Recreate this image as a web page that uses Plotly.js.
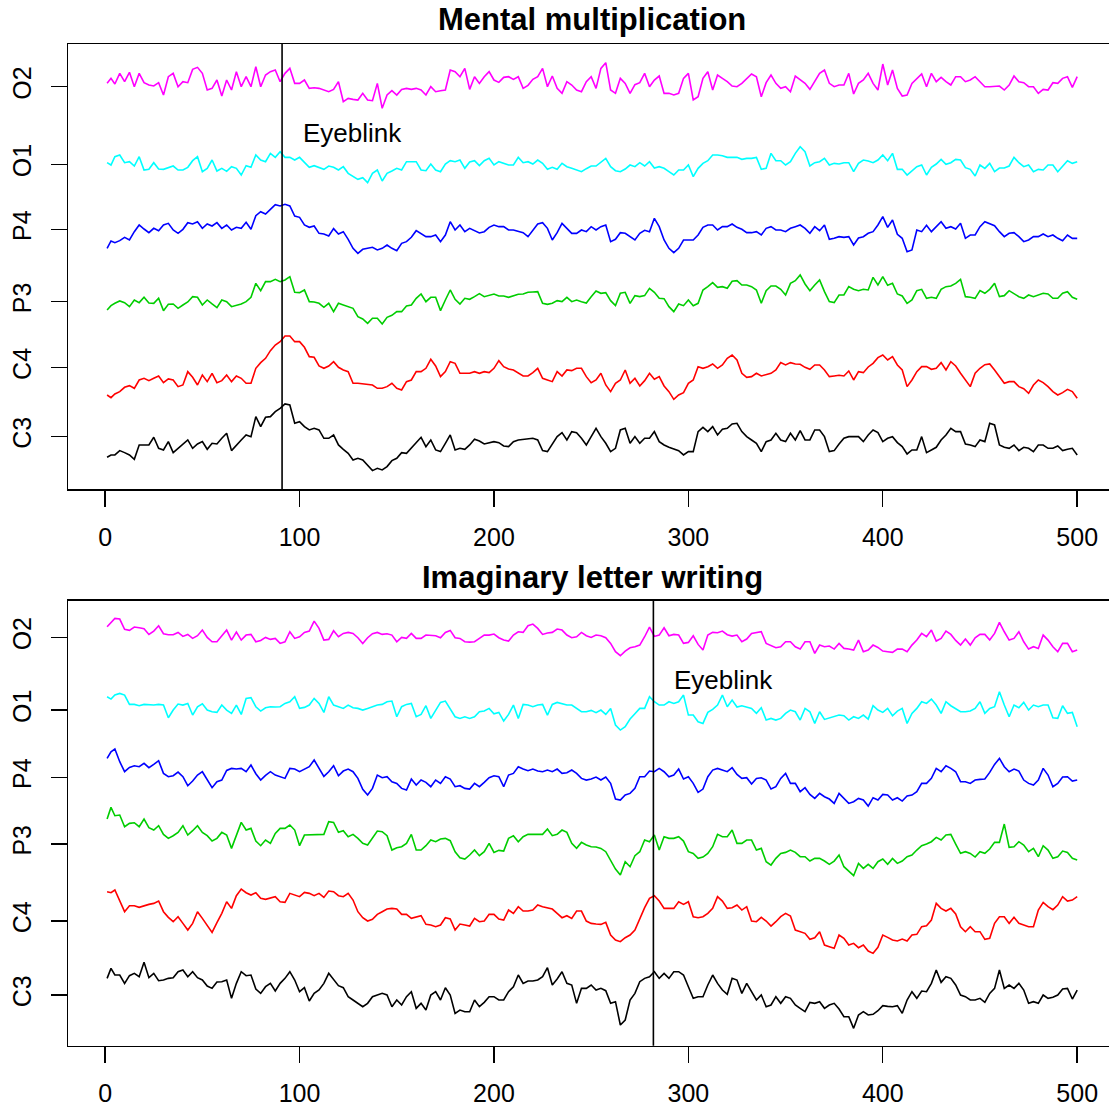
<!DOCTYPE html>
<html><head><meta charset="utf-8">
<script src="https://cdn.plot.ly/plotly-3.0.1.min.js"></script>
<style>html,body{margin:0;padding:0;overflow:hidden;background:#fff}#chart{width:1116px;height:1109px}</style>
</head><body><div id="chart"></div><script>
const channels = ["C3","C4","P3","P4","O1","O2"];
const colors = ["#000000","#FF0000","#00CD00","#0000FF","#00FFFF","#FF00FF"];
// sample positions read on a 5-unit grid, plus in-between readings
const sampleX = [1,5,10,15,20,25,30,35,40,45,50,55,60,65,70,75,80,85,90,95,100,105,110,115,120,125,130,135,140,145,150,155,160,165,170,175,180,185,190,195,200,205,210,215,220,225,230,235,240,245,250,255,260,265,270,275,280,285,290,295,300,305,310,315,320,325,330,335,340,345,350,355,360,365,370,375,380,385,390,395,400,405,410,415,420,425,430,435,440,445,450,455,460,465,470,475,480,485,490,495,500];
const midX = [3,7.5,12.5,17.5,22.5,27.5,32.5,37.5,42.5,47.5,52.5,57.5,62.5,67.5,72.5,77.5,82.5,87.5,92.5,97.5,102.5,107.5,112.5,117.5,122.5,127.5,132.5,137.5,142.5,147.5,152.5,157.5,162.5,167.5,172.5,177.5,182.5,187.5,192.5,197.5,202.5,207.5,212.5,217.5,222.5,227.5,232.5,237.5,242.5,247.5,252.5,257.5,262.5,267.5,272.5,277.5,282.5,287.5,292.5,297.5,302.5,307.5,312.5,317.5,322.5,327.5,332.5,337.5,342.5,347.5,352.5,357.5,362.5,367.5,372.5,377.5,382.5,387.5,392.5,397.5,402.5,407.5,412.5,417.5,422.5,427.5,432.5,437.5,442.5,447.5,452.5,457.5,462.5,467.5,472.5,477.5,482.5,487.5,492.5,497.5];
const xTicks = [0,100,200,300,400,500];

// ---- Mental multiplication (top panel) ----
const topTitle = "Mental multiplication";
const topOffsets = [158,365,563,780,975,1208];
const topBlink = 91;
const top_C3 = [-62,-55,-48,-68,-25,-2,-40,-48,-20,-35,-15,-20,-5,-42,-10,0,30,60,85,95,45,20,20,-5,-25,-50,-65,-85,-95,-90,-65,-50,-20,-30,-40,-20,-40,-38,-8,-22,-15,-28,-15,-8,-5,-42,-22,12,15,-5,0,0,-45,20,-20,-20,-5,-15,-32,-42,-45,15,15,5,25,40,0,-20,-15,10,-15,-10,-10,20,0,-42,-5,0,-15,20,-15,0,-30,-40,0,-40,-10,25,15,-25,-10,40,-25,-35,-42,-35,-25,-35,-28,-38,-55];
const top_C3_mid = [-55,-42,-55,-25,-25,-35,-15,-35,-10,-22,-38,-22,10,-25,5,60,58,75,98,40,30,25,-5,5,-38,-70,-70,-102,-100,-72,-48,-35,-2,-10,-45,5,-35,-25,-13,-18,-18,-30,-10,-7,-10,-45,0,-10,12,-25,25,-20,-35,25,0,-5,15,-25,-38,-55,-45,28,30,22,38,15,-10,-45,-10,-10,10,18,-10,20,-45,-22,0,0,5,12,-5,-18,-52,-40,-48,-32,5,15,-22,-30,-15,35,-32,-25,-32,-45,-25,-35,-42,-35];
const top_C4 = [-82,-79,-59,-62,-32,-32,-45,-37,-52,-29,-22,-17,-39,-42,-32,-47,15,51,78,95,78,33,5,5,1,-12,-47,-52,-62,-57,-62,-42,-12,-2,5,-12,13,-17,-12,-12,-2,3,-7,-25,-15,-32,-42,-25,-9,-2,-45,-17,-72,-37,-47,-55,-17,-27,-72,-82,-47,3,3,-2,28,23,-29,-17,-22,-7,8,11,1,8,-7,-25,-25,-37,-15,13,38,33,-7,-37,3,-5,15,18,-17,-57,-2,11,-27,-42,-57,-77,-37,-57,-82,-65,-92];
const top_C4_mid = [-90,-72,-54,-37,-39,-25,-34,-57,-12,-52,-42,-45,-22,-25,-47,-2,28,68,95,78,61,31,-2,18,-7,-47,-49,-52,-62,-47,-67,-37,-12,25,-27,18,-17,-17,-17,-15,21,-4,-17,-25,-2,-37,-12,-7,-2,-27,-37,-52,-47,-7,-32,-39,-35,-55,-95,-75,-37,-2,11,8,38,-17,-27,-25,-17,15,15,10,-5,8,-27,-23,-10,-12,2,30,23,8,-57,-12,3,-2,-7,5,-39,-17,9,-7,-47,-42,-63,-52,-45,-72,-75,-72];
const top_P3 = [-25,-5,-3,5,13,-5,-27,-7,-10,15,-10,-7,5,-15,-7,13,33,60,60,75,27,0,-5,-5,-5,-15,-45,-65,-50,-47,-30,-13,10,0,13,5,7,10,15,15,23,17,17,23,29,-5,-5,0,0,0,15,25,3,25,-5,15,40,10,-15,-7,5,-5,45,43,40,63,50,35,33,47,20,63,53,50,30,-3,20,37,37,73,75,55,17,5,37,13,37,47,67,13,33,37,15,33,15,20,20,23,10,30,7];
const top_P3_mid = [-12,2,-15,-3,-4,10,-8,-20,-1,13,5,-18,0,-12,0,55,60,67,65,28,35,-1,-17,-30,-10,-20,-52,-50,-67,-41,-30,-10,23,13,-27,35,-7,7,24,19,17,13,22,28,30,-8,3,13,5,-4,32,27,-12,28,18,18,28,9,-30,-12,-12,35,57,45,61,50,45,-5,47,37,55,80,33,65,0,20,45,33,35,50,49,23,-5,33,10,10,45,55,15,10,25,55,18,25,10,15,25,10,25,13];
const top_P4 = [-57,-40,-24,-7,1,3,13,-2,0,16,3,10,3,-2,3,0,53,60,70,70,36,6,-12,-20,-14,-30,-72,-57,-62,-47,-64,-37,-4,-22,-17,-17,-2,-7,-4,-7,13,8,-2,-10,-2,20,-32,18,-12,-2,8,8,-37,-10,-22,-12,-7,8,-57,-57,-32,-17,13,-2,8,6,-10,-7,3,-2,-7,8,3,8,13,-27,-24,-47,-22,-7,38,28,-27,-62,-7,-7,23,8,18,-17,8,18,-7,-12,-22,-32,-22,-22,-27,-17,-27];
const top_P4_mid = [-35,-34,-32,13,-10,-4,18,-12,20,23,16,20,13,6,21,41,46,74,75,40,13,10,-14,2,-7,-57,-60,-54,-57,-57,-42,-24,-14,-22,-37,23,13,3,-11,6,8,-2,-7,-22,16,3,-10,3,-12,-7,-2,13,-30,-12,-32,-3,33,-32,-70,-32,-32,6,13,8,16,0,-10,-17,8,-2,3,13,-12,-4,-30,-22,-22,-26,-12,13,6,-15,-67,-2,12,8,3,1,-27,-17,23,11,-22,-10,-37,-22,-14,-17,-34,-27];
const top_O1 = [5,23,5,-5,-17,5,-15,-5,-17,11,-22,13,-12,-7,-32,-9,13,33,38,21,21,-9,-9,-5,-17,-27,-45,-55,-17,-27,-12,8,8,-19,-17,1,8,-12,11,11,-2,3,-2,5,1,3,-9,3,-12,-22,-5,8,-7,-22,-2,5,8,-7,-22,-17,-2,-12,11,28,21,21,18,21,-12,11,-2,33,38,5,18,3,5,-22,13,5,28,33,-15,-19,-2,-9,15,5,13,-15,-2,3,-11,-5,5,-2,-15,-2,-22,11,8];
const top_O1_mid = [-2,28,8,23,-15,-14,-9,-17,-9,23,-12,-20,-21,-12,-4,28,8,21,21,13,6,-4,-15,-9,-7,-37,-40,-27,-50,-20,-17,8,-17,1,-22,11,13,7,-4,18,8,-2,21,8,13,-15,-15,-7,-17,-13,-5,18,-19,-14,-7,-5,-11,-12,-32,-17,-37,3,28,26,21,15,18,-15,33,11,8,53,-5,8,-2,1,5,3,10,13,11,-15,-32,-7,-32,1,0,15,-10,-35,-12,-22,-11,21,-7,-22,-17,-2,-5,3];
const top_O2 = [10,8,15,0,12,2,-25,40,15,52,40,-5,-28,-10,0,0,0,45,15,55,10,-5,-5,-15,15,-35,-40,-40,10,-25,-25,-5,-5,-25,-15,-10,45,55,30,30,20,28,22,-5,22,55,32,-20,5,-15,30,55,-10,25,-20,12,0,32,-20,-20,40,-30,45,35,15,0,25,30,12,10,0,32,10,15,50,0,5,-22,20,10,68,50,-28,10,38,40,28,5,30,20,15,0,2,5,15,0,-20,-10,10,30,30];
const top_O2_mid = [25,40,43,40,5,12,30,0,12,58,-10,20,20,45,30,60,35,50,40,10,20,-3,-11,-8,-45,-38,-20,-42,-65,-12,-8,-8,-10,0,-12,50,30,-8,10,45,13,30,30,4,30,0,-5,15,-10,15,-5,72,-20,10,6,40,20,-20,-25,25,-40,25,-10,25,2,10,38,-30,35,-5,-15,20,-8,40,10,5,40,10,40,-10,5,-5,-25,25,0,15,15,30,15,30,0,2,-10,32,12,0,-8,12,25,-2];

// ---- Imaginary letter writing (bottom panel) ----
const botTitle = "Imaginary letter writing";
const botOffsets = [152,374,605,805,1007,1225];
const botBlink = 282;
const bot_C3 = [50,60,35,65,98,65,45,52,75,70,45,20,40,-10,70,60,5,35,35,70,10,-18,15,65,28,-5,-25,-25,0,0,-15,-5,-40,-45,10,22,-55,-50,-15,-22,-5,-15,25,35,42,55,30,70,30,20,30,20,-25,-90,-15,40,55,50,50,70,25,-5,30,35,2,45,35,-15,-35,-5,-5,-30,-50,-25,-40,-25,-65,-100,-50,-58,-32,-35,-55,10,12,35,38,50,0,-15,-10,5,75,30,35,-25,-25,-10,0,20,15];
const bot_C3_mid = [80,60,58,55,52,43,50,70,55,52,27,39,45,35,58,18,25,12,50,45,22,5,35,48,22,-15,-35,-5,5,-35,-30,10,-25,0,-15,0,-45,-50,-35,-5,-15,10,60,42,45,82,48,35,-25,20,15,13,-20,-75,5,50,70,65,70,60,-10,-5,60,15,50,5,10,0,-30,-25,-10,-40,-22,-20,-30,-42,-65,-60,-60,-47,-34,-32,-15,-10,10,75,55,30,-5,-15,-22,20,20,20,15,-20,0,-7,18,-12];
const bot_C4 = [88,93,28,46,46,53,28,-2,-7,-7,8,-34,23,38,96,78,68,70,58,83,73,83,83,90,76,83,28,0,20,36,36,20,13,-10,-17,10,-27,-12,8,0,20,3,23,30,33,43,36,10,8,30,-7,-10,-42,-62,-42,8,68,60,38,58,58,10,23,73,38,48,43,-2,0,-2,23,-27,-37,-50,-72,-82,-52,-67,-72,-97,-42,-57,-54,-42,-17,3,38,38,-17,-17,-32,-52,13,-7,-7,-17,33,43,48,60,73];
const bot_C4_mid = [85,58,46,41,50,60,11,13,-27,28,-12,-5,58,76,85,85,65,73,56,78,86,76,71,88,73,63,10,5,28,38,20,8,16,-12,-12,6,-9,-15,-2,20,6,33,43,30,48,40,23,16,30,0,-9,-4,-57,-50,-27,40,76,38,38,50,13,13,38,60,40,33,0,11,-15,13,15,-32,-55,-32,-77,-42,-72,-80,-90,-79,-49,-60,-60,-40,-14,53,30,21,-32,-32,-55,-7,13,11,-12,-17,56,34,73,63];
const bot_P3 = [75,85,52,64,75,42,29,25,55,40,35,9,35,-13,65,47,-5,2,47,57,-5,27,27,67,35,22,17,-3,39,25,-11,2,-18,-5,7,17,-23,-45,-18,-23,-25,-21,25,22,29,29,25,42,2,5,-8,-13,-48,-93,-68,-23,7,-18,17,22,-23,-43,-28,29,22,2,12,-18,-53,-43,-25,-25,-38,-43,-51,-51,-68,-95,-73,-73,-45,-43,-51,-33,-5,7,12,29,-28,-28,-23,-15,5,-10,7,-23,-38,-18,-38,-25,-48];
const bot_P3_mid = [110,87,62,52,49,55,17,35,27,55,25,17,27,25,42,9,12,32,47,42,27,29,29,65,40,29,2,20,37,-18,-8,29,-18,12,15,10,-41,-33,-35,2,-19,17,7,29,29,45,29,35,-13,-3,-9,-23,-75,-53,-35,12,27,22,17,9,-28,-39,-8,22,42,2,12,-13,-63,-28,-18,-38,-51,-43,-61,-33,-83,-58,-61,-53,-61,-58,-38,-18,0,20,27,0,-23,-39,-28,5,60,-8,-3,-13,-5,-43,-21,-43];
const bot_P4 = [57,85,17,35,42,39,12,5,2,-11,17,-31,-8,27,27,37,-8,17,2,27,17,32,27,17,5,25,-3,-53,7,2,-18,-38,-23,-15,-8,2,-28,-33,-18,-15,5,-28,12,25,25,17,17,12,22,-3,-5,-8,-18,-68,-48,2,19,27,2,25,2,-45,2,27,17,9,-1,-3,-8,-28,12,-18,-31,-63,-58,-78,-63,-73,-68,-61,-51,-68,-71,-53,-18,-3,17,27,-13,-18,-6,15,57,17,19,-18,-8,7,-18,2,-8];
const bot_P4_mid = [77,47,30,32,29,50,2,16,-25,7,-9,-13,21,25,17,11,6,7,-3,25,25,52,3,35,19,17,-36,-33,-1,-13,-33,-5,-8,-28,-18,-5,-25,-35,-28,-1,2,7,32,20,19,22,25,14,12,-8,1,1,-65,-53,-33,2,17,17,7,-5,-18,-35,22,22,29,-3,-20,-1,-35,-3,-18,-43,-51,-48,-65,-48,-78,-63,-86,-68,-53,-61,-56,-43,-18,27,35,17,-13,-8,-5,39,32,25,-8,-23,27,-28,1,-11];
const bot_O1 = [40,45,45,17,17,15,15,0,15,-15,19,-5,15,-10,-13,37,-3,10,10,25,5,15,20,40,10,15,5,5,15,25,-20,17,-20,13,0,27,-20,-20,-20,-3,-11,-33,15,17,10,17,17,19,15,-5,-1,0,5,-60,-27,5,40,15,25,25,-15,-35,-7,15,10,9,10,-10,-30,-30,-10,-5,5,-40,-28,-18,-17,-20,-15,13,-7,-17,5,-10,25,33,-10,13,-5,-3,25,5,55,-20,7,0,10,15,-25,-10,-50];
const bot_O1_mid = [33,50,17,13,15,17,-23,18,20,10,0,-7,0,15,35,10,7,9,20,40,8,35,-7,15,5,7,0,10,17,27,10,20,-13,-25,23,5,-25,-25,-5,5,-7,-13,-25,15,15,-15,23,15,5,-5,-8,-13,-45,-50,-11,5,25,15,20,45,-15,-40,2,45,30,13,5,7,-25,-25,0,-30,-5,-5,-23,-15,-30,-25,-27,0,5,-3,-40,5,20,15,25,5,-5,5,-10,10,15,15,23,15,15,-23,13,-7];
const bot_O2 = [32,57,24,31,26,19,11,8,3,-3,22,-13,5,-8,-8,9,-9,-6,-18,17,2,19,27,-6,2,15,-1,-1,15,11,-13,-3,-3,7,5,15,-1,-13,-13,7,10,-8,7,15,40,9,15,22,-1,15,0,5,-18,-55,-31,-23,31,7,5,7,-15,-21,7,14,8,7,-5,14,-18,-31,-13,-28,-13,-48,-28,-35,-33,-38,-43,-23,-41,-45,-35,-23,12,22,-3,9,-23,-23,9,-8,45,-8,17,-35,-33,-8,-43,-18,-38];
const bot_O2_mid = [45,55,21,29,9,35,8,15,9,5,0,-13,22,16,7,-13,0,-3,-13,-3,15,49,-8,20,12,12,-18,11,9,7,0,12,-3,6,-1,21,-3,-14,-3,7,-1,-11,17,35,27,13,25,7,2,5,7,-1,-43,-41,-28,2,3,29,9,-18,5,-38,15,19,4,-13,12,17,-25,-28,-13,-35,-13,-23,-26,-18,-35,-8,-38,-30,-43,-35,-43,-8,2,-11,19,-9,-5,-1,9,12,17,-3,-13,-28,7,-28,-18,-43];

const topSeries = [[top_C3, top_C3_mid], [top_C4, top_C4_mid], [top_P3, top_P3_mid], [top_P4, top_P4_mid], [top_O1, top_O1_mid], [top_O2, top_O2_mid]];
const botSeries = [[bot_C3, bot_C3_mid], [bot_C4, bot_C4_mid], [bot_P3, bot_P3_mid], [bot_P4, bot_P4_mid], [bot_O1, bot_O1_mid], [bot_O2, bot_O2_mid]];

function interleave(a, b) {
  const out = [];
  for (let i = 0; i < a.length; i++) { out.push(a[i]); if (i < b.length) out.push(b[i]); }
  return out;
}
const allX = interleave(sampleX, midX);

const FONT = "Liberation Sans, Arial, Helvetica, sans-serif";
const traces = [];
function addPanel(series, offsets, xa, ya) {
  series.forEach((pair, i) => {
    const vals = interleave(pair[0], pair[1]);
    traces.push({
      type: "scatter", mode: "lines", x: allX,
      y: vals.map(v => v + offsets[i]),
      xaxis: xa, yaxis: ya, name: channels[i],
      line: {color: colors[i], width: 1.6}, hoverinfo: "skip"
    });
  });
}
addPanel(topSeries, topOffsets, "x", "y");
addPanel(botSeries, botOffsets, "x2", "y2");

const xCommon = {
  range: [-18.96, 519.96], tickvals: xTicks, ticktext: xTicks.map(String),
  ticks: "outside", ticklen: 16, tickwidth: 1.4, tickcolor: "#000",
  showline: true, mirror: true, linecolor: "#000", linewidth: 1.5,
  showgrid: false, zeroline: false, ticklabelstandoff: 9,
  tickfont: {family: FONT, size: 25, color: "#000"}
};
const yCommon = {
  ticks: "outside", ticklen: 16, tickwidth: 1.4, tickcolor: "#000",
  showline: true, mirror: true, linecolor: "#000", linewidth: 1.5,
  showgrid: false, zeroline: false, tickangle: -90, ticktext: channels,
  ticklabelstandoff: 10,
  tickfont: {family: FONT, size: 25, color: "#000"}
};

const layout = {
  width: 1116, height: 1109,
  margin: {l: 0, r: 0, t: 0, b: 0},
  paper_bgcolor: "#fff", plot_bgcolor: "#fff",
  showlegend: false,
  xaxis: Object.assign({}, xCommon, {domain: [0.0612, 1], anchor: "y"}),
  yaxis: Object.assign({}, yCommon, {domain: [0.5588, 0.9603], range: [0, 1336], tickvals: topOffsets, anchor: "x"}),
  xaxis2: Object.assign({}, xCommon, {domain: [0.0612, 1], anchor: "y2"}),
  yaxis2: Object.assign({}, yCommon, {domain: [0.0571, 0.4583], range: [0, 1335], tickvals: botOffsets, anchor: "x2"}),
  shapes: [
    {type: "line", xref: "x", yref: "y domain", x0: topBlink, x1: topBlink, y0: 0, y1: 1, line: {color: "#000", width: 1.6}},
    {type: "line", xref: "x2", yref: "y2 domain", x0: botBlink, x1: botBlink, y0: 0, y1: 1, line: {color: "#000", width: 1.6}}
  ],
  annotations: [
    {text: "<b>" + topTitle + "</b>", xref: "paper", yref: "paper", x: 0.5306, y: 0.982, xanchor: "center", yanchor: "middle", showarrow: false, font: {family: FONT, size: 31, color: "#000"}},
    {text: "<b>" + botTitle + "</b>", xref: "paper", yref: "paper", x: 0.5306, y: 0.4797, xanchor: "center", yanchor: "middle", showarrow: false, font: {family: FONT, size: 31, color: "#000"}},
    {text: "Eyeblink", xref: "x", yref: "y", x: topBlink + 36, y: 1068, xanchor: "center", yanchor: "middle", showarrow: false, font: {family: FONT, size: 26, color: "#000"}},
    {text: "Eyeblink", xref: "x2", yref: "y2", x: botBlink + 36, y: 1097, xanchor: "center", yanchor: "middle", showarrow: false, font: {family: FONT, size: 26, color: "#000"}}
  ]
};

Plotly.newPlot("chart", traces, layout, {staticPlot: true, displayModeBar: false});
</script></body></html>
